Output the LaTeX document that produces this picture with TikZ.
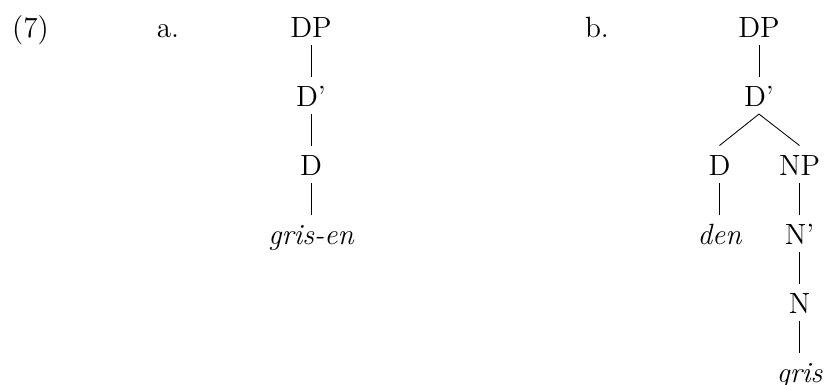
\documentclass[12pt,tikz,border=0pt]{standalone}
\usepackage{tikz}
\begin{document}
\begin{tikzpicture}[
  x=0.41pt, y=-0.41pt,
  cat/.style={anchor=base, inner sep=2.4pt, text height=9.9pt, text depth=0.3pt},
  word/.style={cat, font=\itshape},
  lab/.style={anchor=base, inner sep=0pt},
  branch/.style={line width=0.35pt}
]
  \useasboundingbox (0,0) rectangle (826,385);

  % example number and labels
  \node[lab] (exnum) at (30.5,38) {(7)};
  \node[lab] (laba) at (168,38) {a.};
  \node[lab] (labb) at (597,38) {b.};

  % tree a
  \node[cat] (adp) at (311,38) {DP};
  \node[cat] (adbar) at (311,107) {D'};
  \node[cat] (ad) at (311,176) {D};
  \node[word] (agrisen) at (311,245) {gris-en};

  \draw[branch] (adp.south) -- (adbar.north);
  \draw[branch] (adbar.south) -- (ad.north);
  \draw[branch] (ad.south) -- (agrisen.north);

  % tree b
  \node[cat] (bdp) at (759,38) {DP};
  \node[cat] (bdbar) at (759,107) {D'};
  \node[cat] (bd) at (719.5,176) {D};
  \node[cat] (bnp) at (799.5,176) {NP};
  \node[word] (bden) at (719.5,245) {den};
  \node[cat] (bnbar) at (799.5,245) {N'};
  \node[cat] (bn) at (799.5,314) {N};
  \node[word] (bgris) at (799.5,383) {gris};

  \draw[branch] (bdp.south) -- (bdbar.north);
  \draw[branch] (bdbar.south) -- (bd.north);
  \draw[branch] (bdbar.south) -- (bnp.north);
  \draw[branch] (bd.south) -- (bden.north);
  \draw[branch] (bnp.south) -- (bnbar.north);
  \draw[branch] (bnbar.south) -- (bn.north);
  \draw[branch] (bn.south) -- (bgris.north);
\end{tikzpicture}
\end{document}
